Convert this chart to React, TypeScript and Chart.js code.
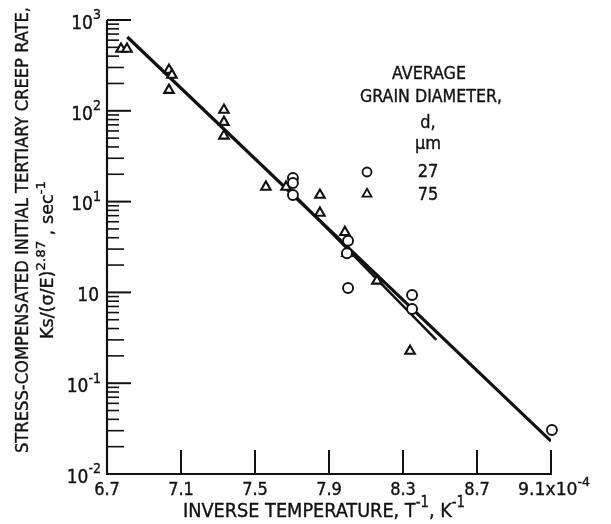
import React, { useEffect, useRef } from "react";
import { Chart, registerables } from "chart.js";

Chart.register(...registerables);

const FONT = "'Liberation Sans Narrow', 'DejaVu Sans Condensed', 'Roboto Condensed', 'Liberation Sans', sans-serif";
const WEIGHT = "500";
const INK = "#111111";

// Data: inverse temperature (x10^-4 K^-1) vs stress-compensated creep rate
const grain27X = [7.705, 7.705, 7.705, 8.003, 7.997, 8.003, 8.349, 8.349, 9.105];
const grain27Y = [18.2, 16, 11.8, 3.7, 2.7, 1.12, 0.936, 0.656, 0.0305];

const grain75X = [6.776, 6.808, 7.035, 7.051, 7.035, 7.332, 7.332, 7.332, 7.559, 7.668, 7.851, 7.851, 7.986, 7.997, 8.159, 8.338];
const grain75Y = [480, 480, 281, 248, 169, 102, 75, 53, 14.5, 14.5, 11.8, 7.5, 4.6, 2.7, 1.34, 0.226];

const fitAllX = [6.81, 9.1];
const fitAllY = [650, 0.023];
const fit27X = [7.72, 8.48];
const fit27Y = [11.4, 0.3];

const xTickValues = [6.7, 7.1, 7.5, 7.9, 8.3, 8.7, 9.1];
const xTickLabels = ["6.7", "7.1", "7.5", "7.9", "8.3", "8.7", "9.1"];
const xScaleExponent = "-4";
const yDecades = [-2, -1, 0, 1, 2, 3];
const yTickExponents = ["-2", "-1", "", "1", "2", "3"];

const legendTitle = ["AVERAGE", "GRAIN DIAMETER,", "d,", "µm"];
const legendLabels = ["27", "75"];

type Part = { t: string; sup?: boolean };

function partFont(size: number, sup?: boolean) {
  return `${WEIGHT} ${sup ? Math.round(size * 0.74) : size}px ${FONT}`;
}

function richWidth(ctx: CanvasRenderingContext2D, parts: Part[], size: number) {
  let w = 0;
  for (const p of parts) {
    ctx.font = partFont(size, p.sup);
    w += ctx.measureText(p.t).width;
  }
  return w;
}

// draws rich text; (cx, cy) = anchor with vertical middle of caps at cy
function drawRich(
  ctx: CanvasRenderingContext2D,
  parts: Part[],
  cx: number,
  cy: number,
  size: number,
  targetW?: number,
  align: "center" | "left" | "right" = "center"
) {
  const natural = richWidth(ctx, parts, size);
  const sx = targetW ? targetW / natural : 1;
  const w = natural * sx;
  const x0 = align === "center" ? cx - w / 2 : align === "right" ? cx - w : cx;
  const baseline = cy + size * 0.36;
  ctx.save();
  ctx.translate(x0, baseline);
  ctx.scale(sx, 1);
  ctx.fillStyle = INK;
  ctx.strokeStyle = INK;
  ctx.lineWidth = 0.35;
  ctx.textAlign = "left";
  ctx.textBaseline = "alphabetic";
  let x = 0;
  for (const p of parts) {
    ctx.font = partFont(size, p.sup);
    const yy = p.sup ? -size * 0.5 : 0;
    ctx.fillText(p.t, x, yy);
    ctx.strokeText(p.t, x, yy);
    x += ctx.measureText(p.t).width;
  }
  ctx.restore();
}

function drawTriangle(ctx: CanvasRenderingContext2D, x: number, y: number, r: number) {
  ctx.beginPath();
  for (let i = 0; i < 3; i++) {
    const a = (i * 2 * Math.PI) / 3;
    const px = x + Math.sin(a) * r;
    const py = y - Math.cos(a) * r;
    if (i === 0) ctx.moveTo(px, py);
    else ctx.lineTo(px, py);
  }
  ctx.closePath();
  ctx.fillStyle = "#fff";
  ctx.fill();
  ctx.stroke();
}

const decorPlugin = {
  id: "decor",
  afterDraw(chart: any) {
    const ctx: CanvasRenderingContext2D = chart.ctx;
    const xs = chart.scales.x;
    const ys = chart.scales.y;
    const a = chart.chartArea;
    ctx.save();
    ctx.strokeStyle = INK;
    ctx.lineCap = "butt";

    // axes
    ctx.lineWidth = 2.2;
    ctx.beginPath();
    ctx.moveTo(a.left, a.top);
    ctx.lineTo(a.left, a.bottom);
    ctx.lineTo(a.right + 1, a.bottom);
    ctx.stroke();

    // x ticks (inward)
    xTickValues.forEach((v, i) => {
      const px = xs.getPixelForValue(v);
      if (i > 0) {
        ctx.lineWidth = 2;
        ctx.beginPath();
        ctx.moveTo(px, a.bottom);
        ctx.lineTo(px, a.bottom - 24);
        ctx.stroke();
      }
      if (i < xTickValues.length - 1) {
        drawRich(ctx, [{ t: xTickLabels[i] }], px, 489, 18);
      } else {
        drawRich(
          ctx,
          [{ t: xTickLabels[i] + "x10" }, { t: xScaleExponent, sup: true }],
          px + 3,
          489,
          18,
          72
        );
      }
    });

    // y ticks (inward), major and minor
    yDecades.forEach((d, i) => {
      const base = Math.pow(10, d);
      const py = ys.getPixelForValue(base);
      if (i > 0) {
        ctx.lineWidth = 2;
        ctx.beginPath();
        ctx.moveTo(a.left, py);
        ctx.lineTo(a.left + 24, py);
        ctx.stroke();
      }
      if (i < yDecades.length - 1) {
        for (let m = 2; m <= 9; m++) {
          const pm = ys.getPixelForValue(base * m);
          const len = m <= 3 ? 17 : 12;
          ctx.lineWidth = 1.6;
          ctx.beginPath();
          ctx.moveTo(a.left, pm);
          ctx.lineTo(a.left + len, pm);
          ctx.stroke();
        }
      }
      const exp = yTickExponents[i];
      const parts: Part[] = exp ? [{ t: "10" }, { t: exp, sup: true }] : [{ t: "10" }];
      drawRich(ctx, parts, exp ? 101 : 99, py + 2, 19, undefined, "right");
    });

    // axis titles
    drawRich(
      ctx,
      [{ t: "INVERSE TEMPERATURE, T" }, { t: "-1", sup: true }, { t: ", K" }, { t: "-1", sup: true }],
      324,
      510,
      20,
      282
    );

    ctx.save();
    ctx.translate(22, 230);
    ctx.rotate(-Math.PI / 2);
    drawRich(ctx, [{ t: "STRESS-COMPENSATED INITIAL TERTIARY CREEP RATE," }], 0, 0, 18, 446);
    ctx.restore();

    ctx.save();
    ctx.translate(47, 260);
    ctx.rotate(-Math.PI / 2);
    drawRich(
      ctx,
      [{ t: "Ks/(σ/E)" }, { t: "2.87", sup: true }, { t: " , sec" }, { t: "-1", sup: true }],
      0,
      0,
      17,
      158
    );
    ctx.restore();

    // legend
    drawRich(ctx, [{ t: legendTitle[0] }], 429, 73, 18, 74);
    drawRich(ctx, [{ t: legendTitle[1] }], 431, 96, 18, 142);
    drawRich(ctx, [{ t: legendTitle[2] }], 428, 122, 18);
    drawRich(ctx, [{ t: legendTitle[3] }], 428, 143, 18);
    drawRich(ctx, [{ t: legendLabels[0] }], 428, 171, 18);
    drawRich(ctx, [{ t: legendLabels[1] }], 428, 194, 18);

    ctx.lineWidth = 1.8;
    ctx.beginPath();
    ctx.arc(367, 172, 4.5, 0, Math.PI * 2);
    ctx.fillStyle = "#fff";
    ctx.fill();
    ctx.stroke();
    drawTriangle(ctx, 367, 194, 5.2);

    ctx.restore();
  },
};

export default function App() {
  const ref = useRef<HTMLCanvasElement | null>(null);

  useEffect(() => {
    if (!ref.current) return;
    const pts = (xa: number[], ya: number[]) => xa.map((x, i) => ({ x, y: ya[i] }));
    const chart = new Chart(ref.current, {
      type: "scatter",
      data: {
        datasets: [
          {
            label: "27",
            data: pts(grain27X, grain27Y),
            pointStyle: "circle",
            pointRadius: 5,
            borderColor: INK,
            backgroundColor: "#ffffff",
            borderWidth: 1.9,
            clip: false as any,
          },
          {
            label: "75",
            data: pts(grain75X, grain75Y),
            pointStyle: "triangle",
            pointRadius: 5.5,
            borderColor: INK,
            backgroundColor: "#ffffff",
            borderWidth: 2.1,
            clip: false as any,
          },
          {
            label: "fit 27",
            data: pts(fit27X, fit27Y),
            showLine: true,
            pointRadius: 0,
            borderColor: INK,
            borderWidth: 2.5,
          },
          {
            label: "fit all",
            data: pts(fitAllX, fitAllY),
            showLine: true,
            pointRadius: 0,
            borderColor: INK,
            borderWidth: 3.2,
          },
        ],
      },
      options: {
        responsive: false,
        animation: false,
        events: [],
        layout: { padding: { left: 107, top: 20, right: 60, bottom: 50 } },
        plugins: { legend: { display: false }, tooltip: { enabled: false } },
        scales: {
          x: { type: "linear", min: 6.7, max: 9.1, display: false },
          y: { type: "logarithmic", min: 0.01, max: 1000, display: false },
        },
      },
      plugins: [decorPlugin],
    });
    return () => chart.destroy();
  }, []);

  return (
    <div style={{ position: "absolute", left: 0, top: 0, width: 611, height: 524, background: "#fff" }}>
      <canvas ref={ref} width={611} height={524} />
    </div>
  );
}
